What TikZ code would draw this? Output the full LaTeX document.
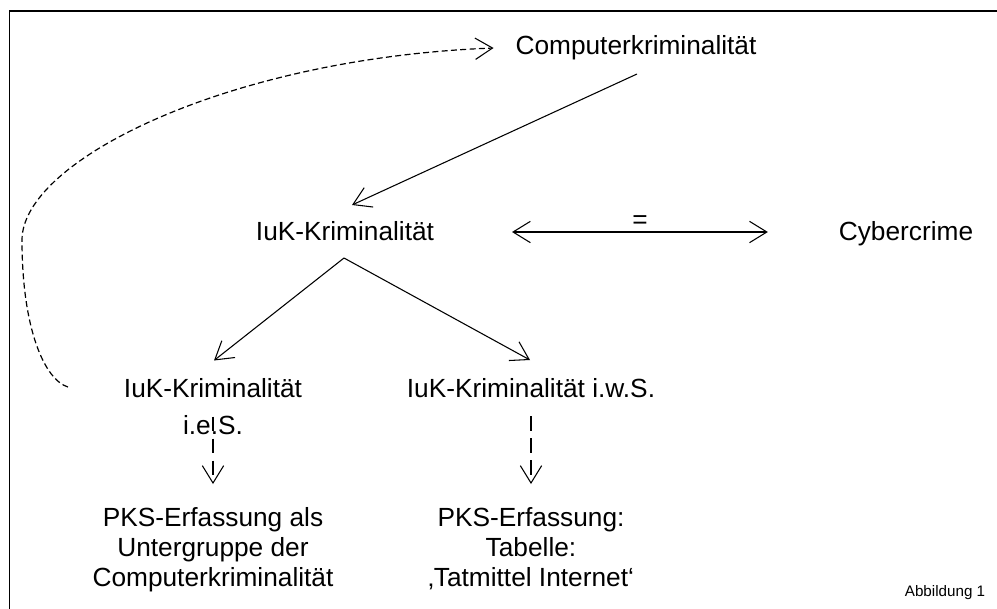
\documentclass[tikz,border=0pt]{standalone}
\usepackage{fontspec}
\setmainfont{Liberation Sans}
\usetikzlibrary{arrows.meta,calc}
\begin{document}
\begin{tikzpicture}[x=0.75pt,y=-0.75pt,
  txt/.style={inner sep=0pt,outer sep=0pt,font=\fontsize{19.7}{22.5}\selectfont},
  txtml/.style={txt,align=center},
  vee/.style={-{Straight Barb[length=13pt,width=16pt,line width=0.8pt]}},
  conn/.style={line width=0.8pt,vee},
  dconn/.style={line width=0.8pt,vee,dash pattern=on 11pt off 5.5pt},
  curvy/.style={line width=0.9pt,vee,dash pattern=on 4.5pt off 2.5pt},
  frame/.style={line width=1.2pt}
]
\useasboundingbox (0,0) rectangle (997,608);
\clip (0,0) rectangle (997,608);
\draw[frame] (9.5,11) rectangle (1030,640);

% nodes
\node[txt,anchor=base] (ck) at (636,54) {Computerkriminalität};
\node[txt,anchor=base] (iuk) at (345,240) {IuK-Kriminalität};
\node[txt,anchor=base] (cy) at (906,240) {Cybercrime};
\node[txtml,anchor=north,font=\fontsize{19.7}{27.5}\selectfont] (ies) at (213,378.5) {IuK-Kriminalität\\i.e.S.};
\node[txt,anchor=base] (iws) at (531,397) {IuK-Kriminalität i.w.S.};
\node[txtml,anchor=north] (pl) at (213,507) {PKS-Erfassung als\\Untergruppe der\\Computerkriminalität};
\node[txtml,anchor=north] (pr) at (531,507) {PKS-Erfassung:\\Tabelle:\\‚Tatmittel Internet‘};
\node[inner sep=0pt,anchor=base,font=\fontsize{11.4}{13}\selectfont] (abb) at (945,596) {Abbildung 1};

% connectors
\draw[conn] ($(ck.base)+(1,20)$) -- ($(iuk.base)+(7,-35)$);
\draw[conn] ($(iuk.base)+(-1,18)$) -- ($(iws.base)+(-1,-37)$);
\draw[conn] ($(iuk.base)+(-1,18)$) -- ($(ies.north)+(1,-18)$);
\draw[line width=0.8pt,{Straight Barb[length=13pt,width=16pt,line width=0.8pt]}-{Straight Barb[length=13pt,width=16pt,line width=0.8pt]}]
  ($(iuk.base east)+(78,-8)$) -- node[midway,anchor=base,yshift=2.5pt,txt] (eq) {=} ($(cy.base west)+(-71,-8)$);
\draw[dconn] ($(ies.north)+(0,38)$) -- ($(pl.north)+(0,-23)$);
\draw[dconn] ($(iws.base)+(0,19)$) -- ($(pr.north)+(0,-23)$);

\coordinate (cs) at (68,387);
\draw[curvy] (cs) .. controls (45,380) and (22,330) .. (22,240)
  .. controls (22,160) and (230,58) .. ($(ck.base west)+(-22,-6)$);
\end{tikzpicture}
\end{document}
